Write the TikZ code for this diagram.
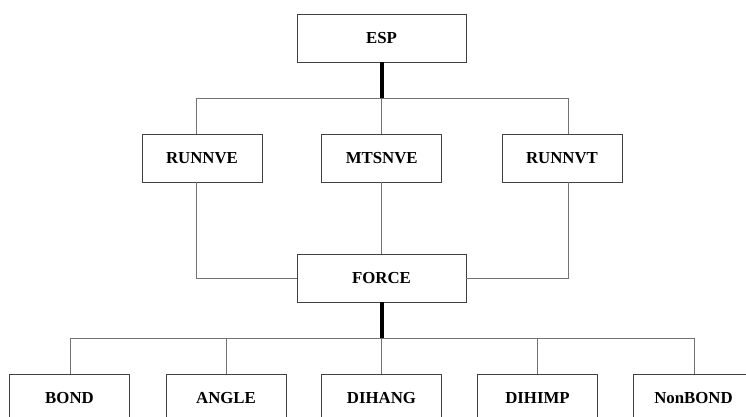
\documentclass[tikz,border=0pt]{standalone}
\usepackage{fontspec}
\setmainfont{Liberation Serif}
\begin{document}
\begin{tikzpicture}[x=1pt,y=-1pt,
  box/.style={draw=black!75,line width=0.9pt,fill=white,inner sep=0pt,font=\fontsize{16.8}{18}\selectfont\bfseries},
  wide/.style={box,minimum width=169pt,minimum height=48pt},
  narrow/.style={box,minimum width=120pt,minimum height=48pt},
  conn/.style={draw=black!55,line width=0.9pt},
  trunk/.style={draw=black,line width=4pt}]
\useasboundingbox (0,0) rectangle (746,417);
\begin{scope}
\clip (0,0) rectangle (746,417);
% nodes
\node[wide] (ESP) at (381.5,38) {ESP};
\node[narrow] (RUNNVE) at (202,158) {RUNNVE};
\node[narrow] (MTSNVE) at (381.7,158) {MTSNVE};
\node[narrow] (RUNNVT) at (562,158) {RUNNVT};
\node[wide] (FORCE) at (381.5,278) {FORCE};
\node[narrow] (BOND) at (69.5,398) {BOND};
\node[narrow] (ANGLE) at (226,398) {ANGLE};
\node[narrow] (DIHANG) at (381.5,398) {DIHANG};
\node[narrow] (DIHIMP) at (537.5,398) {DIHIMP};
\node[narrow] (NonBOND) at (693.5,398) {NonBOND};
% bus coordinates
\coordinate (busTop) at (381.5,98);
\coordinate (xl) at (196,98);
\coordinate (xm) at (381.7,98);
\coordinate (xr) at (568,98);
\coordinate (busBot) at (381.5,338);
\coordinate (b1) at (70,338);
\coordinate (b2) at (226,338);
\coordinate (b3) at (381.5,338);
\coordinate (b4) at (537,338);
\coordinate (b5) at (694,338);
% upper connectors
\draw[conn] (xl) -- (xr);
\draw[conn] (xl) -- (xl |- RUNNVE.north);
\draw[conn] (xm) -- (xm |- MTSNVE.north);
\draw[conn] (xr) -- (xr |- RUNNVT.north);
\draw[trunk] (ESP.south) -- (busTop);
% middle connectors
\draw[conn] (RUNNVE.south -| xl) |- (FORCE.west);
\draw[conn] (RUNNVT.south -| xr) |- (FORCE.east);
\draw[conn] (MTSNVE.south -| xm) -- (FORCE.north -| xm);
% lower connectors
\draw[conn] (b1) -- (b5);
\foreach \c/\n in {b1/BOND,b2/ANGLE,b3/DIHANG,b4/DIHIMP,b5/NonBOND}
  \draw[conn] (\c) -- (\c |- \n.north);
\draw[trunk] (FORCE.south) -- (busBot);
\end{scope}
\end{tikzpicture}
\end{document}
